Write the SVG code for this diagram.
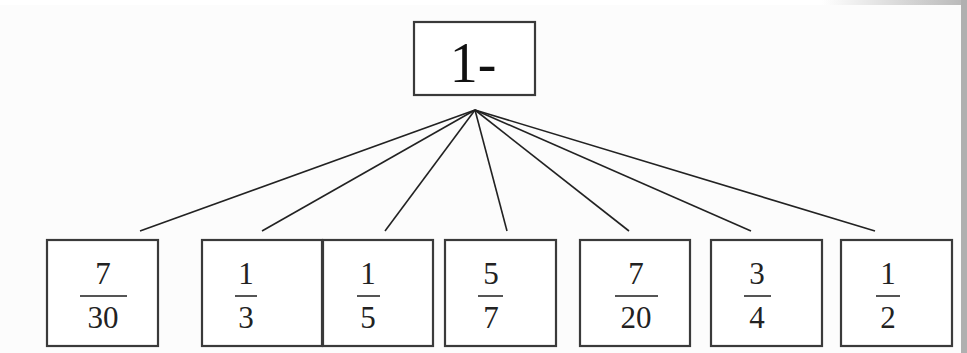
<svg xmlns="http://www.w3.org/2000/svg" width="967" height="353" viewBox="0 0 967 353">
<defs>
<linearGradient id="topg" x1="0" y1="0" x2="1" y2="0">
<stop offset="0" stop-color="#ffffff"/>
<stop offset="0.85" stop-color="#ffffff"/>
<stop offset="1" stop-color="#b8b8b8"/>
</linearGradient>
<style>
.box{fill:#ffffff;stroke:#3a3a3a;stroke-width:2.2}
.edge{stroke:#222;stroke-width:1.6;fill:none}
.num{font-family:"Liberation Serif","Times New Roman",serif;font-size:31px;fill:#222;text-anchor:middle}
.bar{stroke:#555;stroke-width:2}
.big{font-family:"Liberation Serif","Times New Roman",serif;font-size:56px;fill:#111;text-anchor:middle}
</style>
</defs>
<rect x="0" y="0" width="967" height="353" fill="#fcfcfc"/>
<rect x="0" y="0" width="967" height="5" fill="url(#topg)"/>
<rect x="961" y="0" width="6" height="353" fill="#b0b0b0"/>
<g id="connectors">
<line class="edge" x1="475" y1="110" x2="140" y2="231"/>
<line class="edge" x1="475" y1="110" x2="262" y2="231"/>
<line class="edge" x1="475" y1="110" x2="385" y2="231"/>
<line class="edge" x1="475" y1="110" x2="507" y2="231"/>
<line class="edge" x1="475" y1="110" x2="629" y2="231"/>
<line class="edge" x1="475" y1="110" x2="751" y2="231"/>
<line class="edge" x1="475" y1="110" x2="875" y2="231"/>
</g>
<g id="root">
<rect class="box" x="414" y="22" width="121" height="73"/>
<text class="big" x="473" y="82">1-</text>
</g>
<g id="n1">
<rect class="box" x="47" y="240" width="111" height="106"/>
<text class="num" x="103" y="284">7</text>
<line class="bar" x1="80" y1="296" x2="127" y2="296"/>
<text class="num" x="103" y="328">30</text>
</g>
<g id="n2">
<rect class="box" x="202" y="240" width="120" height="106"/>
<text class="num" x="246" y="284">1</text>
<line class="bar" x1="235" y1="296" x2="257" y2="296"/>
<text class="num" x="246" y="328">3</text>
</g>
<g id="n3">
<rect class="box" x="323" y="240" width="110" height="106"/>
<text class="num" x="368" y="284">1</text>
<line class="bar" x1="357" y1="296" x2="380" y2="296"/>
<text class="num" x="368" y="328">5</text>
</g>
<g id="n4">
<rect class="box" x="445" y="240" width="111" height="106"/>
<text class="num" x="491" y="284">5</text>
<line class="bar" x1="478" y1="296" x2="503" y2="296"/>
<text class="num" x="491" y="328">7</text>
</g>
<g id="n5">
<rect class="box" x="580" y="240" width="110" height="106"/>
<text class="num" x="636" y="284">7</text>
<line class="bar" x1="615" y1="296" x2="658" y2="296"/>
<text class="num" x="636" y="328">20</text>
</g>
<g id="n6">
<rect class="box" x="711" y="240" width="111" height="106"/>
<text class="num" x="757" y="284">3</text>
<line class="bar" x1="744" y1="296" x2="771" y2="296"/>
<text class="num" x="757" y="328">4</text>
</g>
<g id="n7">
<rect class="box" x="841" y="240" width="111" height="106"/>
<text class="num" x="888" y="284">1</text>
<line class="bar" x1="876" y1="296" x2="900" y2="296"/>
<text class="num" x="888" y="328">2</text>
</g>
</svg>
